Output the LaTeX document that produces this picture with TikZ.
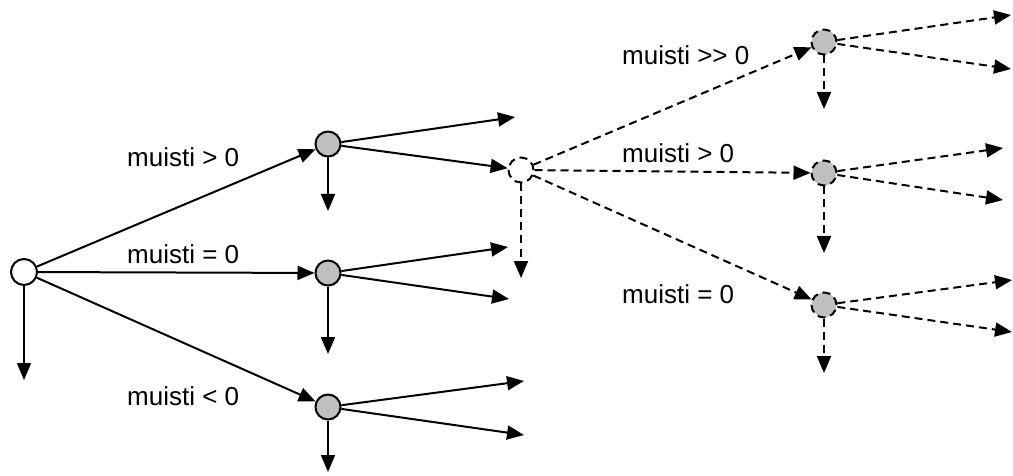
\documentclass[tikz,border=0pt]{standalone}
\usepackage{fontspec}
\setmainfont{Liberation Sans}
\usetikzlibrary{arrows.meta}
\tikzset{
  tila/.style={draw, circle, line width=2pt, minimum size=25pt, inner sep=0pt},
  alkutila/.style={tila, fill=white, minimum size=26pt},
  harmaa/.style={tila, fill=black!25},
  katko/.style={dash pattern=on 8pt off 5pt},
  nuoli/.style={line width=2pt, -{Triangle[length=17pt,width=14pt]}},
  teksti/.style={anchor=base west, inner sep=0pt, font=\fontsize{26}{30}\selectfont}
}
\begin{document}
\begin{tikzpicture}[x=1pt, y=-1pt]
        \useasboundingbox (0,0) rectangle (1013,476);
        \node[alkutila] (alku) at (24,272) {};
        \node[harmaa] (plus) at (328,144) {};
        \node[harmaa] (nolla) at (328,273) {};
        \node[harmaa] (miinus) at (328,407) {};
        \node[tila, katko, fill=white] (odota) at (521,170) {};
        \node[harmaa, katko] (suuri) at (824,42) {};
        \node[harmaa, katko] (keski) at (824,173) {};
        \node[harmaa, katko] (ala) at (824,305) {};

        \node[teksti] (t1) at (127,167) {muisti > 0};
        \node[teksti] (t2) at (127,263) {muisti = 0};
        \node[teksti] (t3) at (127,405) {muisti < 0};
        \node[teksti] (t4) at (622,65) {muisti >{}> 0};
        \node[teksti] (t5) at (622,163) {muisti > 0};
        \node[teksti] (t6) at (622,303) {muisti = 0};

        \coordinate (alku-d) at (24,380);
        \coordinate (plus-a) at (515,117);
        \coordinate (plus-d) at (328,211);
        \coordinate (nolla-a) at (508,247);
        \coordinate (nolla-b) at (509,299);
        \coordinate (nolla-d) at (328,354);
        \coordinate (miinus-a) at (524,381);
        \coordinate (miinus-b) at (524,435);
        \coordinate (miinus-d) at (328,472);
        \coordinate (odota-d) at (521,278);
        \coordinate (suuri-a) at (1011,15);
        \coordinate (suuri-b) at (1011,69);
        \coordinate (suuri-d) at (824,109);
        \coordinate (keski-a) at (1003,148);
        \coordinate (keski-b) at (1003,200);
        \coordinate (keski-d) at (824,253);
        \coordinate (ala-a) at (1012,280);
        \coordinate (ala-b) at (1012,332);
        \coordinate (ala-d) at (824,373);

        \draw[nuoli] (alku) -- (plus);
        \draw[nuoli] (alku) -- (nolla);
        \draw[nuoli] (alku) -- (miinus);
        \draw[nuoli] (alku) -- (alku-d);
        \draw[nuoli] (plus) -- (plus-a);
        \draw[nuoli] (plus) -- (odota);
        \draw[nuoli] (plus) -- (plus-d);
        \draw[nuoli] (nolla) -- (nolla-a);
        \draw[nuoli] (nolla) -- (nolla-b);
        \draw[nuoli] (nolla) -- (nolla-d);
        \draw[nuoli] (miinus) -- (miinus-a);
        \draw[nuoli] (miinus) -- (miinus-b);
        \draw[nuoli] (miinus) -- (miinus-d);

        \draw[nuoli, katko] (odota) -- (suuri);
        \draw[nuoli, katko] (odota) -- (keski);
        \draw[nuoli, katko] (odota) -- (ala);
        \draw[nuoli, katko] (odota) -- (odota-d);
        \draw[nuoli, katko] (suuri) -- (suuri-a);
        \draw[nuoli, katko] (suuri) -- (suuri-b);
        \draw[nuoli, katko] (suuri) -- (suuri-d);
        \draw[nuoli, katko] (keski) -- (keski-a);
        \draw[nuoli, katko] (keski) -- (keski-b);
        \draw[nuoli, katko] (keski) -- (keski-d);
        \draw[nuoli, katko] (ala) -- (ala-a);
        \draw[nuoli, katko] (ala) -- (ala-b);
        \draw[nuoli, katko] (ala) -- (ala-d);
    \end{tikzpicture}
\end{document}
